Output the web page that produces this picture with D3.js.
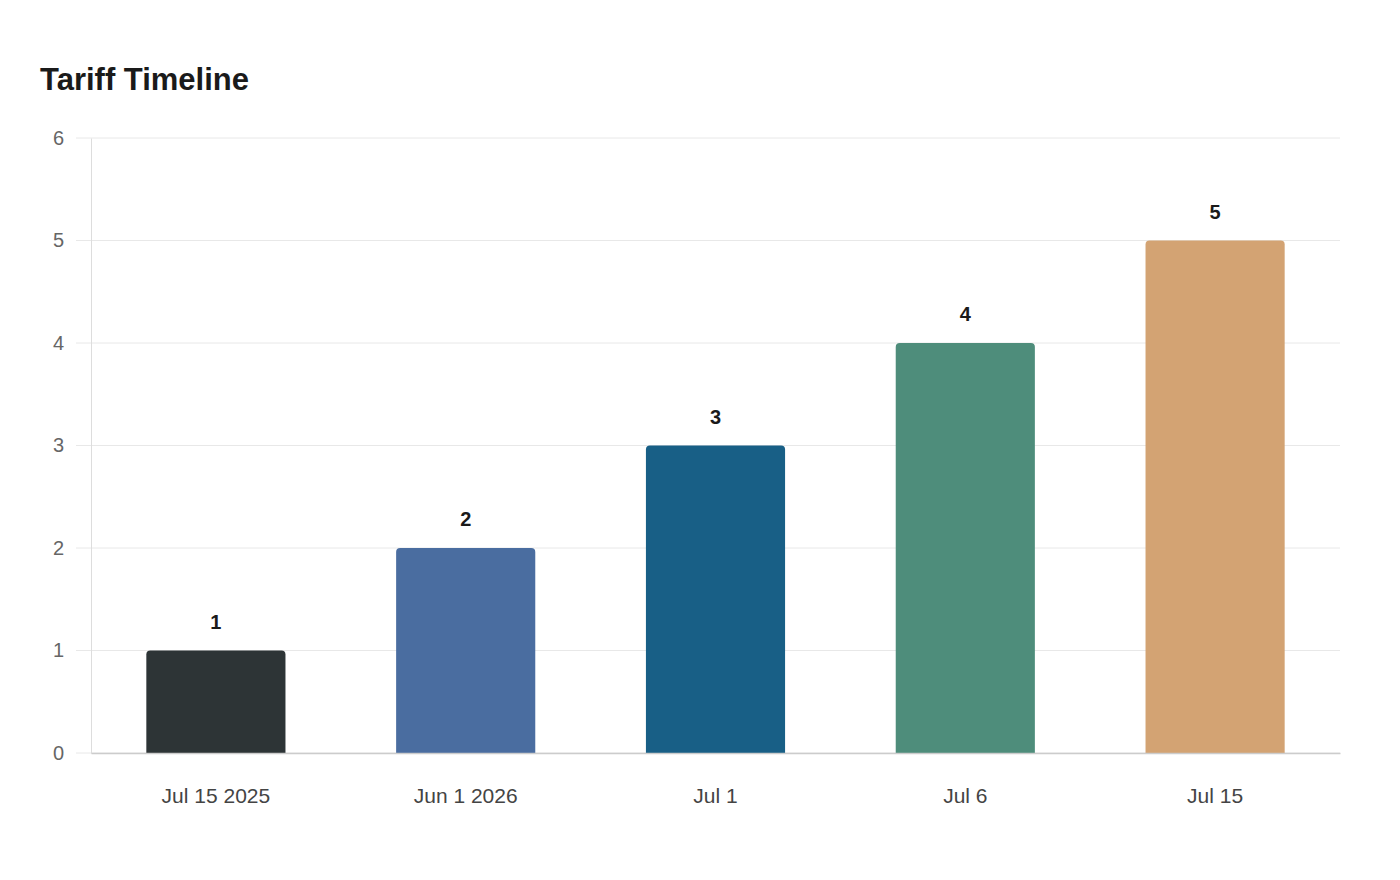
<!DOCTYPE html>
<html>
<head>
<meta charset="utf-8">
<script src="https://cdn.jsdelivr.net/npm/d3@7"></script>
<style>
  body { margin: 0; background: #fff; font-family: 'Liberation Sans', Arial, sans-serif; }
</style>
</head>
<body>
<div id="chart"></div>
<script>
var dates = ['Jul 15 2025', 'Jun 1 2026', 'Jul 1', 'Jul 6', 'Jul 15']
var values = [1, 2, 3, 4, 5]
var colors = ['#2d3436', '#4a6da0', '#185f86', '#4e8d7b', '#d3a373']
var yTicks = [0, 1, 2, 3, 4, 5, 6]

var width = 1400
var height = 880
var margin = { top: 138, bottom: 127, left: 91, right: 60 }
var innerW = width - margin.left - margin.right
var innerH = height - margin.top - margin.bottom

var svg = d3.select('#chart')
  .append('svg')
  .attr('width', width)
  .attr('height', height)

svg.append('text')
  .attr('x', 40)
  .attr('y', 90)
  .text('Tariff Timeline')
  .attr('font-size', '31px')
  .attr('font-weight', 'bold')
  .attr('fill', '#1a1a1a')

var g = svg.append('g')
  .attr('transform', 'translate(' + margin.left + ',' + margin.top + ')')

var x = d3.scaleBand()
  .domain(dates)
  .range([0, innerW])
  .paddingInner(0.443)
  .paddingOuter(0.2215)

var y = d3.scaleLinear()
  .domain([0, 6])
  .range([innerH, 0])

// grid
g.selectAll('.grid')
  .data(yTicks)
  .enter()
  .append('line')
  .attr('x1', -15)
  .attr('x2', innerW)
  .attr('y1', d => y(d))
  .attr('y2', d => y(d))
  .attr('stroke', '#e8e8e8')
  .attr('stroke-width', 1)

// y axis
var yAxis = g.append('g')
  .call(d3.axisLeft(y).tickValues(yTicks).tickFormat(d3.format('d')).tickSize(0).tickPadding(27))
yAxis.select('.domain').attr('stroke', '#dddddd')
yAxis.selectAll('text')
  .attr('font-size', '20px')
  .attr('fill', '#666')
  .attr('font-family', "'Liberation Sans', Arial, sans-serif")

// bars
g.selectAll('.bar')
  .data(values)
  .enter()
  .append('path')
  .attr('fill', (d, i) => colors[i])
  .attr('d', (d, i) => {
    var x0 = x(dates[i]), w = x.bandwidth()
    var y0 = y(d), y1 = y(0), r = 4
    return 'M' + x0 + ',' + y1 +
      'V' + (y0 + r) +
      'Q' + x0 + ',' + y0 + ' ' + (x0 + r) + ',' + y0 +
      'H' + (x0 + w - r) +
      'Q' + (x0 + w) + ',' + y0 + ' ' + (x0 + w) + ',' + (y0 + r) +
      'V' + y1 + 'Z'
  })

// value labels
g.selectAll('.label')
  .data(values)
  .enter()
  .append('text')
  .attr('x', (d, i) => x(dates[i]) + x.bandwidth() / 2)
  .attr('y', d => y(d) - 22)
  .attr('text-anchor', 'middle')
  .attr('font-size', '20px')
  .attr('font-weight', 'bold')
  .attr('fill', '#1a1a1a')
  .text(d => d)

// x axis
var xAxis = g.append('g')
  .attr('transform', 'translate(0,' + innerH + ')')
  .call(d3.axisBottom(x).tickSize(0).tickPadding(35))
xAxis.select('.domain').attr('stroke', '#cccccc').attr('stroke-width', 1.5)
xAxis.selectAll('text')
  .attr('font-size', '21px')
  .attr('fill', '#444')
  .attr('font-family', "'Liberation Sans', Arial, sans-serif")
</script>
</body>
</html>
